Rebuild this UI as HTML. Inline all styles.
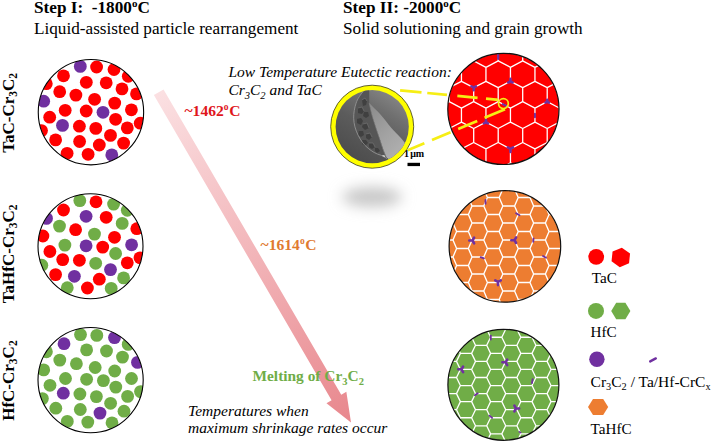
<!DOCTYPE html>
<html><head><meta charset="utf-8"><style>
html,body{margin:0;padding:0;background:#fff;}
body{width:713px;height:448px;overflow:hidden;}
svg{display:block;}
</style></head><body>
<svg width="713" height="448" viewBox="0 0 713 448">
<defs>
<clipPath id="lc0"><circle cx="90.95" cy="112.15" r="52.7"/></clipPath>
<clipPath id="lc1"><circle cx="90.5" cy="246.3" r="52.5"/></clipPath>
<clipPath id="lc2"><circle cx="90.6" cy="380.1" r="52.6"/></clipPath>
<clipPath id="rc0"><circle cx="503.4" cy="108.9" r="55.6"/></clipPath>
<clipPath id="rc1"><circle cx="504.9" cy="246.35" r="55.8"/></clipPath>
<clipPath id="rc2"><circle cx="503.4" cy="384.8" r="55.5"/></clipPath>
<linearGradient id="ag" gradientUnits="userSpaceOnUse" x1="158.7" y1="92.2" x2="351.0" y2="422.6">
<stop offset="0" stop-color="#fbe0e2"/><stop offset="0.5" stop-color="#f2b4b8"/><stop offset="1" stop-color="#e8878d"/>
</linearGradient>
<radialGradient id="sh" cx="0.5" cy="0.5" r="0.5">
<stop offset="0" stop-color="#cfcfcf"/><stop offset="0.45" stop-color="#dadada"/><stop offset="1" stop-color="#fff" stop-opacity="0"/>
</radialGradient>
<linearGradient id="semg" x1="0.25" y1="0.95" x2="0.8" y2="0.05">
<stop offset="0" stop-color="#4c4c4c"/><stop offset="0.45" stop-color="#5c5c5c"/><stop offset="0.75" stop-color="#707070"/><stop offset="1" stop-color="#868686"/>
</linearGradient>
<linearGradient id="lens" x1="0" y1="0" x2="0.6" y2="1">
<stop offset="0" stop-color="#8a8a8a"/><stop offset="0.5" stop-color="#a0a0a0"/><stop offset="1" stop-color="#b2b2b2"/>
</linearGradient>
<clipPath id="semclip"><circle cx="372.2" cy="126.7" r="36.6"/></clipPath>
<filter id="blur8" x="-1" y="-1" width="3" height="3"><feGaussianBlur stdDeviation="7"/></filter>
</defs>
<rect width="713" height="448" fill="#fff"/>

<!-- headers -->
<g font-family="Liberation Serif, Times New Roman, serif" fill="#000">
<text x="34" y="13.3" font-size="17.2" font-weight="bold" xml:space="preserve">Step I:  -1800<tspan font-size="11" dy="-6">o</tspan><tspan dy="6">C</tspan></text>
<text x="34" y="33.9" font-size="17.2">Liquid-assisted particle rearrangement</text>
<text x="343" y="13.3" font-size="17.2" font-weight="bold" xml:space="preserve">Step II: -2000<tspan font-size="11" dy="-6">o</tspan><tspan dy="6">C</tspan></text>
<text x="343" y="33.9" font-size="17.2">Solid solutioning and grain growth</text>
</g>

<!-- rotated labels -->
<g font-family="Liberation Serif, Times New Roman, serif" fill="#000" font-weight="bold" font-size="17">
<text transform="translate(14,152.8) rotate(-90)">TaC-Cr<tspan font-size="11.5" dy="3.4">3</tspan><tspan dy="-3.4">C</tspan><tspan font-size="11.5" dy="3.4">2</tspan></text>
<text transform="translate(14,303.2) rotate(-90)">TaHfC-Cr<tspan font-size="11.5" dy="3.4">3</tspan><tspan dy="-3.4">C</tspan><tspan font-size="11.5" dy="3.4">2</tspan></text>
<text transform="translate(14,420.8) rotate(-90)">HfC-Cr<tspan font-size="11.5" dy="3.4">3</tspan><tspan dy="-3.4">C</tspan><tspan font-size="11.5" dy="3.4">2</tspan></text>
</g>

<!-- shadow under SEM -->
<ellipse cx="372" cy="197" rx="30" ry="10" fill="#c7c7c7" filter="url(#blur8)"/>

<circle cx="90.95" cy="112.15" r="52.7" fill="#fff"/>
<g clip-path="url(#lc0)">
<circle cx="63.5" cy="75.8" r="6.4" fill="#ff0000"/>
<circle cx="86.3" cy="82.3" r="6.4" fill="#ff0000"/>
<circle cx="46.3" cy="83.7" r="6.4" fill="#ff0000"/>
<circle cx="59.7" cy="91.7" r="6.4" fill="#ff0000"/>
<circle cx="75.9" cy="95.1" r="6.4" fill="#ff0000"/>
<circle cx="94.6" cy="99.3" r="6.4" fill="#ff0000"/>
<circle cx="65.2" cy="110.3" r="6.4" fill="#ff0000"/>
<circle cx="86.2" cy="111" r="6.4" fill="#ff0000"/>
<circle cx="49.7" cy="117.2" r="6.4" fill="#ff0000"/>
<circle cx="96.6" cy="67" r="6.4" fill="#ff0000"/>
<circle cx="114" cy="69.5" r="6.4" fill="#ff0000"/>
<circle cx="128.3" cy="76.3" r="6.4" fill="#ff0000"/>
<circle cx="106.2" cy="82.8" r="6.4" fill="#ff0000"/>
<circle cx="122" cy="88.9" r="6.4" fill="#ff0000"/>
<circle cx="136.5" cy="93.9" r="6.4" fill="#ff0000"/>
<circle cx="114.7" cy="103.1" r="6.4" fill="#ff0000"/>
<circle cx="131.4" cy="109.8" r="6.4" fill="#ff0000"/>
<circle cx="79.4" cy="126.2" r="6.4" fill="#ff0000"/>
<circle cx="41.5" cy="130.6" r="6.4" fill="#ff0000"/>
<circle cx="55.6" cy="139.9" r="6.4" fill="#ff0000"/>
<circle cx="79.6" cy="141.5" r="6.4" fill="#ff0000"/>
<circle cx="67.1" cy="153.3" r="6.4" fill="#ff0000"/>
<circle cx="88.1" cy="154.3" r="6.4" fill="#ff0000"/>
<circle cx="115.6" cy="119.3" r="6.4" fill="#ff0000"/>
<circle cx="140.2" cy="123.2" r="6.4" fill="#ff0000"/>
<circle cx="95.8" cy="128.4" r="6.4" fill="#ff0000"/>
<circle cx="127.3" cy="127.9" r="6.4" fill="#ff0000"/>
<circle cx="110.5" cy="135.4" r="6.4" fill="#ff0000"/>
<circle cx="99.3" cy="145" r="6.4" fill="#ff0000"/>
<circle cx="123.6" cy="143.1" r="6.4" fill="#ff0000"/>
<circle cx="80.3" cy="66.4" r="6.4" fill="#7030a0"/>
<circle cx="43.7" cy="101.2" r="6.4" fill="#7030a0"/>
<circle cx="103" cy="112.3" r="6.4" fill="#7030a0"/>
<circle cx="62.5" cy="125.4" r="6.4" fill="#7030a0"/>
<circle cx="111.8" cy="154.9" r="6.4" fill="#7030a0"/>
</g>
<circle cx="90.95" cy="112.15" r="52.7" fill="none" stroke="#000" stroke-width="1.1"/>
<circle cx="90.5" cy="246.3" r="52.5" fill="#fff"/>
<g clip-path="url(#lc1)">
<circle cx="63.5" cy="210" r="6.4" fill="#ff0000"/>
<circle cx="75.6" cy="229.7" r="6.4" fill="#ff0000"/>
<circle cx="42.9" cy="236" r="6.4" fill="#ff0000"/>
<circle cx="49.9" cy="251.5" r="6.4" fill="#ff0000"/>
<circle cx="62.7" cy="259.6" r="6.4" fill="#ff0000"/>
<circle cx="79.4" cy="260.3" r="6.4" fill="#ff0000"/>
<circle cx="55.6" cy="274.6" r="6.4" fill="#ff0000"/>
<circle cx="87.4" cy="288" r="6.4" fill="#ff0000"/>
<circle cx="96" cy="201.8" r="6.4" fill="#ff0000"/>
<circle cx="106.2" cy="217.3" r="6.4" fill="#ff0000"/>
<circle cx="136.8" cy="228.7" r="6.4" fill="#ff0000"/>
<circle cx="114.5" cy="237.3" r="6.4" fill="#ff0000"/>
<circle cx="102.7" cy="247.1" r="6.4" fill="#ff0000"/>
<circle cx="140" cy="257.8" r="6.4" fill="#ff0000"/>
<circle cx="127.3" cy="262.8" r="6.4" fill="#ff0000"/>
<circle cx="99.3" cy="279.2" r="6.4" fill="#ff0000"/>
<circle cx="79.8" cy="200.6" r="6.4" fill="#70ad47"/>
<circle cx="113.6" cy="204.1" r="6.4" fill="#70ad47"/>
<circle cx="127.3" cy="210.3" r="6.4" fill="#70ad47"/>
<circle cx="59.5" cy="226.1" r="6.4" fill="#70ad47"/>
<circle cx="122.2" cy="223.4" r="6.4" fill="#70ad47"/>
<circle cx="94.5" cy="234.1" r="6.4" fill="#70ad47"/>
<circle cx="64.9" cy="245.1" r="6.4" fill="#70ad47"/>
<circle cx="115.6" cy="253.5" r="6.4" fill="#70ad47"/>
<circle cx="95.7" cy="263.3" r="6.4" fill="#70ad47"/>
<circle cx="41.8" cy="265.2" r="6.4" fill="#70ad47"/>
<circle cx="123.6" cy="277.9" r="6.4" fill="#70ad47"/>
<circle cx="67.3" cy="287.7" r="6.4" fill="#70ad47"/>
<circle cx="111.2" cy="288.4" r="6.4" fill="#70ad47"/>
<circle cx="86.1" cy="216.3" r="6.4" fill="#7030a0"/>
<circle cx="46.5" cy="218.4" r="6.4" fill="#7030a0"/>
<circle cx="86.1" cy="245.8" r="6.4" fill="#7030a0"/>
<circle cx="74.4" cy="276.3" r="6.4" fill="#7030a0"/>
<circle cx="131.6" cy="244.8" r="6.4" fill="#7030a0"/>
<circle cx="110.5" cy="269.6" r="6.4" fill="#7030a0"/>
</g>
<circle cx="90.5" cy="246.3" r="52.5" fill="none" stroke="#000" stroke-width="1.1"/>
<circle cx="90.6" cy="380.1" r="52.6" fill="#fff"/>
<g clip-path="url(#lc2)">
<circle cx="80.5" cy="334.6" r="6.4" fill="#70ad47"/>
<circle cx="96.8" cy="335.4" r="6.4" fill="#70ad47"/>
<circle cx="128.2" cy="344.4" r="6.4" fill="#70ad47"/>
<circle cx="86.6" cy="349.9" r="6.4" fill="#70ad47"/>
<circle cx="46.4" cy="351.8" r="6.4" fill="#70ad47"/>
<circle cx="106.5" cy="351" r="6.4" fill="#70ad47"/>
<circle cx="122.5" cy="357.1" r="6.4" fill="#70ad47"/>
<circle cx="59.8" cy="360.1" r="6.4" fill="#70ad47"/>
<circle cx="76.4" cy="363.7" r="6.4" fill="#70ad47"/>
<circle cx="95.2" cy="367.5" r="6.4" fill="#70ad47"/>
<circle cx="43.7" cy="369.9" r="6.4" fill="#70ad47"/>
<circle cx="114.7" cy="371" r="6.4" fill="#70ad47"/>
<circle cx="65.5" cy="378.5" r="6.4" fill="#70ad47"/>
<circle cx="86.6" cy="379.3" r="6.4" fill="#70ad47"/>
<circle cx="103.4" cy="380.6" r="6.4" fill="#70ad47"/>
<circle cx="131.5" cy="378.5" r="6.4" fill="#70ad47"/>
<circle cx="50" cy="385.3" r="6.4" fill="#70ad47"/>
<circle cx="115.8" cy="387.1" r="6.4" fill="#70ad47"/>
<circle cx="140.5" cy="391.6" r="6.4" fill="#70ad47"/>
<circle cx="79.9" cy="394" r="6.4" fill="#70ad47"/>
<circle cx="42.4" cy="398.6" r="6.4" fill="#70ad47"/>
<circle cx="96.4" cy="396.6" r="6.4" fill="#70ad47"/>
<circle cx="127.6" cy="396.4" r="6.4" fill="#70ad47"/>
<circle cx="110.6" cy="403.3" r="6.4" fill="#70ad47"/>
<circle cx="55.8" cy="408.2" r="6.4" fill="#70ad47"/>
<circle cx="80.3" cy="409.5" r="6.4" fill="#70ad47"/>
<circle cx="124" cy="411.2" r="6.4" fill="#70ad47"/>
<circle cx="67.3" cy="421.4" r="6.4" fill="#70ad47"/>
<circle cx="87.8" cy="422.1" r="6.4" fill="#70ad47"/>
<circle cx="112" cy="422.8" r="6.4" fill="#70ad47"/>
<circle cx="114.5" cy="337.6" r="6.4" fill="#7030a0"/>
<circle cx="64" cy="343.7" r="6.4" fill="#7030a0"/>
<circle cx="137.5" cy="362.4" r="6.4" fill="#7030a0"/>
<circle cx="63.3" cy="393.2" r="6.4" fill="#7030a0"/>
<circle cx="100" cy="413.1" r="6.4" fill="#7030a0"/>
</g>
<circle cx="90.6" cy="380.1" r="52.6" fill="none" stroke="#000" stroke-width="1.1"/>
<circle cx="503.4" cy="108.9" r="55.6" fill="#ff0000"/>
<g clip-path="url(#rc0)" fill="none" stroke="#fff" stroke-width="1.3" stroke-linejoin="round">
<path d="M498.2,20.1 L510.45,26.5 L510.45,40.5 L498.2,46.9 L485.95,40.5 L485.95,26.5Z M461.45,40.5 L473.7,46.9 L473.7,60.9 L461.45,67.3 L449.2,60.9 L449.2,46.9Z M485.95,40.5 L498.2,46.9 L498.2,60.9 L485.95,67.3 L473.7,60.9 L473.7,46.9Z M510.45,40.5 L522.7,46.9 L522.7,60.9 L510.45,67.3 L498.2,60.9 L498.2,46.9Z M534.95,40.5 L547.2,46.9 L547.2,60.9 L534.95,67.3 L522.7,60.9 L522.7,46.9Z M449.2,60.9 L461.45,67.3 L461.45,81.3 L449.2,87.7 L436.95,81.3 L436.95,67.3Z M473.7,60.9 L485.95,67.3 L485.95,81.3 L473.7,87.7 L461.45,81.3 L461.45,67.3Z M498.2,60.9 L510.45,67.3 L510.45,81.3 L498.2,87.7 L485.95,81.3 L485.95,67.3Z M522.7,60.9 L534.95,67.3 L534.95,81.3 L522.7,87.7 L510.45,81.3 L510.45,67.3Z M547.2,60.9 L559.45,67.3 L559.45,81.3 L547.2,87.7 L534.95,81.3 L534.95,67.3Z M436.95,81.3 L449.2,87.7 L449.2,101.7 L436.95,108.1 L424.7,101.7 L424.7,87.7Z M461.45,81.3 L473.7,87.7 L473.7,101.7 L461.45,108.1 L449.2,101.7 L449.2,87.7Z M485.95,81.3 L498.2,87.7 L498.2,101.7 L485.95,108.1 L473.7,101.7 L473.7,87.7Z M510.45,81.3 L522.7,87.7 L522.7,101.7 L510.45,108.1 L498.2,101.7 L498.2,87.7Z M534.95,81.3 L547.2,87.7 L547.2,101.7 L534.95,108.1 L522.7,101.7 L522.7,87.7Z M559.45,81.3 L571.7,87.7 L571.7,101.7 L559.45,108.1 L547.2,101.7 L547.2,87.7Z M449.2,101.7 L461.45,108.1 L461.45,122.1 L449.2,128.5 L436.95,122.1 L436.95,108.1Z M473.7,101.7 L485.95,108.1 L485.95,122.1 L473.7,128.5 L461.45,122.1 L461.45,108.1Z M498.2,101.7 L510.45,108.1 L510.45,122.1 L498.2,128.5 L485.95,122.1 L485.95,108.1Z M522.7,101.7 L534.95,108.1 L534.95,122.1 L522.7,128.5 L510.45,122.1 L510.45,108.1Z M547.2,101.7 L559.45,108.1 L559.45,122.1 L547.2,128.5 L534.95,122.1 L534.95,108.1Z M571.7,101.7 L583.95,108.1 L583.95,122.1 L571.7,128.5 L559.45,122.1 L559.45,108.1Z M436.95,122.1 L449.2,128.5 L449.2,142.5 L436.95,148.9 L424.7,142.5 L424.7,128.5Z M461.45,122.1 L473.7,128.5 L473.7,142.5 L461.45,148.9 L449.2,142.5 L449.2,128.5Z M485.95,122.1 L498.2,128.5 L498.2,142.5 L485.95,148.9 L473.7,142.5 L473.7,128.5Z M510.45,122.1 L522.7,128.5 L522.7,142.5 L510.45,148.9 L498.2,142.5 L498.2,128.5Z M534.95,122.1 L547.2,128.5 L547.2,142.5 L534.95,148.9 L522.7,142.5 L522.7,128.5Z M559.45,122.1 L571.7,128.5 L571.7,142.5 L559.45,148.9 L547.2,142.5 L547.2,128.5Z M449.2,142.5 L461.45,148.9 L461.45,162.9 L449.2,169.3 L436.95,162.9 L436.95,148.9Z M473.7,142.5 L485.95,148.9 L485.95,162.9 L473.7,169.3 L461.45,162.9 L461.45,148.9Z M498.2,142.5 L510.45,148.9 L510.45,162.9 L498.2,169.3 L485.95,162.9 L485.95,148.9Z M522.7,142.5 L534.95,148.9 L534.95,162.9 L522.7,169.3 L510.45,162.9 L510.45,148.9Z M547.2,142.5 L559.45,148.9 L559.45,162.9 L547.2,169.3 L534.95,162.9 L534.95,148.9Z M485.95,162.9 L498.2,169.3 L498.2,183.3 L485.95,189.7 L473.7,183.3 L473.7,169.3Z M510.45,162.9 L522.7,169.3 L522.7,183.3 L510.45,189.7 L498.2,183.3 L498.2,169.3Z M534.95,162.9 L547.2,169.3 L547.2,183.3 L534.95,189.7 L522.7,183.3 L522.7,169.3Z"/>
</g>
<g clip-path="url(#rc0)" fill="#7030a0" stroke="none">
<path d="M498.2,55 L498.2,59" stroke="#7030a0" stroke-width="2.2" stroke-linecap="round"/>
<path transform="translate(510.45,81.3) rotate(180)" d="M0,0 L-2.09,-1.2 M0,0 L2.09,-1.2 M0,0 L0,2.4" stroke="#7030a0" stroke-width="2.6" stroke-linecap="round" stroke-linejoin="round" fill="none"/>
<path transform="translate(473.7,87.7) rotate(0)" d="M0,0 L-2.26,-1.3 M0,0 L2.26,-1.3 M0,0 L0,2.6" stroke="#7030a0" stroke-width="2.6" stroke-linecap="round" stroke-linejoin="round" fill="none"/>
<path d="M502.75,104.09 L505.85,105.71" stroke="#7030a0" stroke-width="2" stroke-linecap="round"/>
<path transform="translate(485.95,122.1) rotate(180)" d="M0,0 L-2.09,-1.2 M0,0 L2.09,-1.2 M0,0 L0,2.4" stroke="#7030a0" stroke-width="2.6" stroke-linecap="round" stroke-linejoin="round" fill="none"/>
<path transform="translate(547.2,101.7) rotate(180)" d="M0,0 L-1.74,-1 M0,0 L1.74,-1 M0,0 L0,2" stroke="#7030a0" stroke-width="2.6" stroke-linecap="round" stroke-linejoin="round" fill="none"/>
<path d="M534.95,113.75 L534.95,117.25" stroke="#7030a0" stroke-width="2" stroke-linecap="round"/>
<path transform="translate(510.45,148.9) rotate(0)" d="M0,0 L-2.61,-1.5 M0,0 L2.61,-1.5 M0,0 L0,3" stroke="#7030a0" stroke-width="2.6" stroke-linecap="round" stroke-linejoin="round" fill="none"/>
</g>
<circle cx="503.4" cy="108.9" r="55.6" fill="none" stroke="#111" stroke-width="1.2"/>
<circle cx="504.9" cy="246.35" r="55.8" fill="#ed7d31"/>
<g clip-path="url(#rc1)" fill="none" stroke="#fff" stroke-width="1.3" stroke-linejoin="round">
<path d="M437.6,214.5 L441.25,206 L452.95,206 L456.6,214.5 L452.95,223 L441.25,223Z M437.6,231.5 L441.25,223 L452.95,223 L456.6,231.5 L452.95,240 L441.25,240Z M437.6,248.5 L441.25,240 L452.95,240 L456.6,248.5 L452.95,257 L441.25,257Z M437.6,265.5 L441.25,257 L452.95,257 L456.6,265.5 L452.95,274 L441.25,274Z M437.6,282.5 L441.25,274 L452.95,274 L456.6,282.5 L452.95,291 L441.25,291Z M453,206 L456.65,197.5 L468.35,197.5 L472,206 L468.35,214.5 L456.65,214.5Z M453,223 L456.65,214.5 L468.35,214.5 L472,223 L468.35,231.5 L456.65,231.5Z M453,240 L456.65,231.5 L468.35,231.5 L472,240 L468.35,248.5 L456.65,248.5Z M453,257 L456.65,248.5 L468.35,248.5 L472,257 L468.35,265.5 L456.65,265.5Z M453,274 L456.65,265.5 L468.35,265.5 L472,274 L468.35,282.5 L456.65,282.5Z M453,291 L456.65,282.5 L468.35,282.5 L472,291 L468.35,299.5 L456.65,299.5Z M468.4,197.5 L472.05,189 L483.75,189 L487.4,197.5 L483.75,206 L472.05,206Z M468.4,214.5 L472.05,206 L483.75,206 L487.4,214.5 L483.75,223 L472.05,223Z M468.4,231.5 L472.05,223 L483.75,223 L487.4,231.5 L483.75,240 L472.05,240Z M468.4,248.5 L472.05,240 L483.75,240 L487.4,248.5 L483.75,257 L472.05,257Z M468.4,265.5 L472.05,257 L483.75,257 L487.4,265.5 L483.75,274 L472.05,274Z M468.4,282.5 L472.05,274 L483.75,274 L487.4,282.5 L483.75,291 L472.05,291Z M468.4,299.5 L472.05,291 L483.75,291 L487.4,299.5 L483.75,308 L472.05,308Z M483.8,189 L487.45,180.5 L499.15,180.5 L502.8,189 L499.15,197.5 L487.45,197.5Z M483.8,206 L487.45,197.5 L499.15,197.5 L502.8,206 L499.15,214.5 L487.45,214.5Z M483.8,223 L487.45,214.5 L499.15,214.5 L502.8,223 L499.15,231.5 L487.45,231.5Z M483.8,240 L487.45,231.5 L499.15,231.5 L502.8,240 L499.15,248.5 L487.45,248.5Z M483.8,257 L487.45,248.5 L499.15,248.5 L502.8,257 L499.15,265.5 L487.45,265.5Z M483.8,274 L487.45,265.5 L499.15,265.5 L502.8,274 L499.15,282.5 L487.45,282.5Z M483.8,291 L487.45,282.5 L499.15,282.5 L502.8,291 L499.15,299.5 L487.45,299.5Z M483.8,308 L487.45,299.5 L499.15,299.5 L502.8,308 L499.15,316.5 L487.45,316.5Z M499.2,180.5 L502.85,172 L514.55,172 L518.2,180.5 L514.55,189 L502.85,189Z M499.2,197.5 L502.85,189 L514.55,189 L518.2,197.5 L514.55,206 L502.85,206Z M499.2,214.5 L502.85,206 L514.55,206 L518.2,214.5 L514.55,223 L502.85,223Z M499.2,231.5 L502.85,223 L514.55,223 L518.2,231.5 L514.55,240 L502.85,240Z M499.2,248.5 L502.85,240 L514.55,240 L518.2,248.5 L514.55,257 L502.85,257Z M499.2,265.5 L502.85,257 L514.55,257 L518.2,265.5 L514.55,274 L502.85,274Z M499.2,282.5 L502.85,274 L514.55,274 L518.2,282.5 L514.55,291 L502.85,291Z M499.2,299.5 L502.85,291 L514.55,291 L518.2,299.5 L514.55,308 L502.85,308Z M499.2,316.5 L502.85,308 L514.55,308 L518.2,316.5 L514.55,325 L502.85,325Z M514.6,189 L518.25,180.5 L529.95,180.5 L533.6,189 L529.95,197.5 L518.25,197.5Z M514.6,206 L518.25,197.5 L529.95,197.5 L533.6,206 L529.95,214.5 L518.25,214.5Z M514.6,223 L518.25,214.5 L529.95,214.5 L533.6,223 L529.95,231.5 L518.25,231.5Z M514.6,240 L518.25,231.5 L529.95,231.5 L533.6,240 L529.95,248.5 L518.25,248.5Z M514.6,257 L518.25,248.5 L529.95,248.5 L533.6,257 L529.95,265.5 L518.25,265.5Z M514.6,274 L518.25,265.5 L529.95,265.5 L533.6,274 L529.95,282.5 L518.25,282.5Z M514.6,291 L518.25,282.5 L529.95,282.5 L533.6,291 L529.95,299.5 L518.25,299.5Z M514.6,308 L518.25,299.5 L529.95,299.5 L533.6,308 L529.95,316.5 L518.25,316.5Z M530,197.5 L533.65,189 L545.35,189 L549,197.5 L545.35,206 L533.65,206Z M530,214.5 L533.65,206 L545.35,206 L549,214.5 L545.35,223 L533.65,223Z M530,231.5 L533.65,223 L545.35,223 L549,231.5 L545.35,240 L533.65,240Z M530,248.5 L533.65,240 L545.35,240 L549,248.5 L545.35,257 L533.65,257Z M530,265.5 L533.65,257 L545.35,257 L549,265.5 L545.35,274 L533.65,274Z M530,282.5 L533.65,274 L545.35,274 L549,282.5 L545.35,291 L533.65,291Z M530,299.5 L533.65,291 L545.35,291 L549,299.5 L545.35,308 L533.65,308Z M545.4,206 L549.05,197.5 L560.75,197.5 L564.4,206 L560.75,214.5 L549.05,214.5Z M545.4,223 L549.05,214.5 L560.75,214.5 L564.4,223 L560.75,231.5 L549.05,231.5Z M545.4,240 L549.05,231.5 L560.75,231.5 L564.4,240 L560.75,248.5 L549.05,248.5Z M545.4,257 L549.05,248.5 L560.75,248.5 L564.4,257 L560.75,265.5 L549.05,265.5Z M545.4,274 L549.05,265.5 L560.75,265.5 L564.4,274 L560.75,282.5 L549.05,282.5Z M545.4,291 L549.05,282.5 L560.75,282.5 L564.4,291 L560.75,299.5 L549.05,299.5Z M560.8,231.5 L564.45,223 L576.15,223 L579.8,231.5 L576.15,240 L564.45,240Z M560.8,248.5 L564.45,240 L576.15,240 L579.8,248.5 L576.15,257 L564.45,257Z M560.8,265.5 L564.45,257 L576.15,257 L579.8,265.5 L576.15,274 L564.45,274Z"/>
</g>
<g clip-path="url(#rc1)" fill="#7030a0" stroke="none">
<path d="M485.5,199.8 L485.5,203.8" stroke="#7030a0" stroke-width="1.8" stroke-linecap="round"/>
<path d="M516.07,213.2 L519.53,215.2" stroke="#7030a0" stroke-width="1.8" stroke-linecap="round"/>
<path transform="translate(472.5,240.5) rotate(90)" d="M0,0 L-2.78,-1.6 M0,0 L2.78,-1.6 M0,0 L0,3.2" stroke="#7030a0" stroke-width="2.6" stroke-linecap="round" stroke-linejoin="round" fill="none"/>
<path transform="translate(514.5,240.2) rotate(90)" d="M0,0 L-2.78,-1.6 M0,0 L2.78,-1.6 M0,0 L0,3.2" stroke="#7030a0" stroke-width="2.6" stroke-linecap="round" stroke-linejoin="round" fill="none"/>
<path d="M533.55,238.36 L533.25,241.84" stroke="#7030a0" stroke-width="1.8" stroke-linecap="round"/>
<path d="M480.66,257.2 L483.94,258.4" stroke="#7030a0" stroke-width="1.8" stroke-linecap="round"/>
<path d="M542.98,256.02 L546.02,257.77" stroke="#7030a0" stroke-width="1.8" stroke-linecap="round"/>
<path transform="translate(498,281.9) rotate(0)" d="M0,0 L-2.78,-1.6 M0,0 L2.78,-1.6 M0,0 L0,3.2" stroke="#7030a0" stroke-width="2.6" stroke-linecap="round" stroke-linejoin="round" fill="none"/>
</g>
<circle cx="504.9" cy="246.35" r="55.8" fill="none" stroke="#111" stroke-width="1.2"/>
<circle cx="503.4" cy="384.8" r="55.5" fill="#70ad47"/>
<g clip-path="url(#rc2)" fill="none" stroke="#fff" stroke-width="1.3" stroke-linejoin="round">
<path d="M426.3,377.5 L430.2,369.45 L441.4,369.45 L445.3,377.5 L441.4,385.55 L430.2,385.55Z M426.3,393.6 L430.2,385.55 L441.4,385.55 L445.3,393.6 L441.4,401.65 L430.2,401.65Z M441.4,353.35 L445.3,345.3 L456.5,345.3 L460.4,353.35 L456.5,361.4 L445.3,361.4Z M441.4,369.45 L445.3,361.4 L456.5,361.4 L460.4,369.45 L456.5,377.5 L445.3,377.5Z M441.4,385.55 L445.3,377.5 L456.5,377.5 L460.4,385.55 L456.5,393.6 L445.3,393.6Z M441.4,401.65 L445.3,393.6 L456.5,393.6 L460.4,401.65 L456.5,409.7 L445.3,409.7Z M441.4,417.75 L445.3,409.7 L456.5,409.7 L460.4,417.75 L456.5,425.8 L445.3,425.8Z M456.5,329.2 L460.4,321.15 L471.6,321.15 L475.5,329.2 L471.6,337.25 L460.4,337.25Z M456.5,345.3 L460.4,337.25 L471.6,337.25 L475.5,345.3 L471.6,353.35 L460.4,353.35Z M456.5,361.4 L460.4,353.35 L471.6,353.35 L475.5,361.4 L471.6,369.45 L460.4,369.45Z M456.5,377.5 L460.4,369.45 L471.6,369.45 L475.5,377.5 L471.6,385.55 L460.4,385.55Z M456.5,393.6 L460.4,385.55 L471.6,385.55 L475.5,393.6 L471.6,401.65 L460.4,401.65Z M456.5,409.7 L460.4,401.65 L471.6,401.65 L475.5,409.7 L471.6,417.75 L460.4,417.75Z M456.5,425.8 L460.4,417.75 L471.6,417.75 L475.5,425.8 L471.6,433.85 L460.4,433.85Z M456.5,441.9 L460.4,433.85 L471.6,433.85 L475.5,441.9 L471.6,449.95 L460.4,449.95Z M471.6,321.15 L475.5,313.1 L486.7,313.1 L490.6,321.15 L486.7,329.2 L475.5,329.2Z M471.6,337.25 L475.5,329.2 L486.7,329.2 L490.6,337.25 L486.7,345.3 L475.5,345.3Z M471.6,353.35 L475.5,345.3 L486.7,345.3 L490.6,353.35 L486.7,361.4 L475.5,361.4Z M471.6,369.45 L475.5,361.4 L486.7,361.4 L490.6,369.45 L486.7,377.5 L475.5,377.5Z M471.6,385.55 L475.5,377.5 L486.7,377.5 L490.6,385.55 L486.7,393.6 L475.5,393.6Z M471.6,401.65 L475.5,393.6 L486.7,393.6 L490.6,401.65 L486.7,409.7 L475.5,409.7Z M471.6,417.75 L475.5,409.7 L486.7,409.7 L490.6,417.75 L486.7,425.8 L475.5,425.8Z M471.6,433.85 L475.5,425.8 L486.7,425.8 L490.6,433.85 L486.7,441.9 L475.5,441.9Z M471.6,449.95 L475.5,441.9 L486.7,441.9 L490.6,449.95 L486.7,458 L475.5,458Z M486.7,329.2 L490.6,321.15 L501.8,321.15 L505.7,329.2 L501.8,337.25 L490.6,337.25Z M486.7,345.3 L490.6,337.25 L501.8,337.25 L505.7,345.3 L501.8,353.35 L490.6,353.35Z M486.7,361.4 L490.6,353.35 L501.8,353.35 L505.7,361.4 L501.8,369.45 L490.6,369.45Z M486.7,377.5 L490.6,369.45 L501.8,369.45 L505.7,377.5 L501.8,385.55 L490.6,385.55Z M486.7,393.6 L490.6,385.55 L501.8,385.55 L505.7,393.6 L501.8,401.65 L490.6,401.65Z M486.7,409.7 L490.6,401.65 L501.8,401.65 L505.7,409.7 L501.8,417.75 L490.6,417.75Z M486.7,425.8 L490.6,417.75 L501.8,417.75 L505.7,425.8 L501.8,433.85 L490.6,433.85Z M486.7,441.9 L490.6,433.85 L501.8,433.85 L505.7,441.9 L501.8,449.95 L490.6,449.95Z M501.8,321.15 L505.7,313.1 L516.9,313.1 L520.8,321.15 L516.9,329.2 L505.7,329.2Z M501.8,337.25 L505.7,329.2 L516.9,329.2 L520.8,337.25 L516.9,345.3 L505.7,345.3Z M501.8,353.35 L505.7,345.3 L516.9,345.3 L520.8,353.35 L516.9,361.4 L505.7,361.4Z M501.8,369.45 L505.7,361.4 L516.9,361.4 L520.8,369.45 L516.9,377.5 L505.7,377.5Z M501.8,385.55 L505.7,377.5 L516.9,377.5 L520.8,385.55 L516.9,393.6 L505.7,393.6Z M501.8,401.65 L505.7,393.6 L516.9,393.6 L520.8,401.65 L516.9,409.7 L505.7,409.7Z M501.8,417.75 L505.7,409.7 L516.9,409.7 L520.8,417.75 L516.9,425.8 L505.7,425.8Z M501.8,433.85 L505.7,425.8 L516.9,425.8 L520.8,433.85 L516.9,441.9 L505.7,441.9Z M501.8,449.95 L505.7,441.9 L516.9,441.9 L520.8,449.95 L516.9,458 L505.7,458Z M516.9,329.2 L520.8,321.15 L532,321.15 L535.9,329.2 L532,337.25 L520.8,337.25Z M516.9,345.3 L520.8,337.25 L532,337.25 L535.9,345.3 L532,353.35 L520.8,353.35Z M516.9,361.4 L520.8,353.35 L532,353.35 L535.9,361.4 L532,369.45 L520.8,369.45Z M516.9,377.5 L520.8,369.45 L532,369.45 L535.9,377.5 L532,385.55 L520.8,385.55Z M516.9,393.6 L520.8,385.55 L532,385.55 L535.9,393.6 L532,401.65 L520.8,401.65Z M516.9,409.7 L520.8,401.65 L532,401.65 L535.9,409.7 L532,417.75 L520.8,417.75Z M516.9,425.8 L520.8,417.75 L532,417.75 L535.9,425.8 L532,433.85 L520.8,433.85Z M516.9,441.9 L520.8,433.85 L532,433.85 L535.9,441.9 L532,449.95 L520.8,449.95Z M532,337.25 L535.9,329.2 L547.1,329.2 L551,337.25 L547.1,345.3 L535.9,345.3Z M532,353.35 L535.9,345.3 L547.1,345.3 L551,353.35 L547.1,361.4 L535.9,361.4Z M532,369.45 L535.9,361.4 L547.1,361.4 L551,369.45 L547.1,377.5 L535.9,377.5Z M532,385.55 L535.9,377.5 L547.1,377.5 L551,385.55 L547.1,393.6 L535.9,393.6Z M532,401.65 L535.9,393.6 L547.1,393.6 L551,401.65 L547.1,409.7 L535.9,409.7Z M532,417.75 L535.9,409.7 L547.1,409.7 L551,417.75 L547.1,425.8 L535.9,425.8Z M532,433.85 L535.9,425.8 L547.1,425.8 L551,433.85 L547.1,441.9 L535.9,441.9Z M547.1,345.3 L551,337.25 L562.2,337.25 L566.1,345.3 L562.2,353.35 L551,353.35Z M547.1,361.4 L551,353.35 L562.2,353.35 L566.1,361.4 L562.2,369.45 L551,369.45Z M547.1,377.5 L551,369.45 L562.2,369.45 L566.1,377.5 L562.2,385.55 L551,385.55Z M547.1,393.6 L551,385.55 L562.2,385.55 L566.1,393.6 L562.2,401.65 L551,401.65Z M547.1,409.7 L551,401.65 L562.2,401.65 L566.1,409.7 L562.2,417.75 L551,417.75Z M547.1,425.8 L551,417.75 L562.2,417.75 L566.1,425.8 L562.2,433.85 L551,433.85Z"/>
</g>
<g clip-path="url(#rc2)" fill="#7030a0" stroke="none">
<path d="M490.8,335.6 L490.8,339.6" stroke="#7030a0" stroke-width="1.8" stroke-linecap="round"/>
<path transform="translate(461.5,369.3) rotate(90)" d="M0,0 L-2.78,-1.6 M0,0 L2.78,-1.6 M0,0 L0,3.2" stroke="#7030a0" stroke-width="2.6" stroke-linecap="round" stroke-linejoin="round" fill="none"/>
<path transform="translate(505.6,362.3) rotate(90)" d="M0,0 L-2.78,-1.6 M0,0 L2.78,-1.6 M0,0 L0,3.2" stroke="#7030a0" stroke-width="2.6" stroke-linecap="round" stroke-linejoin="round" fill="none"/>
<path d="M532.65,379.13 L531.95,383.07" stroke="#7030a0" stroke-width="1.8" stroke-linecap="round"/>
<path d="M474.87,395.2 L477.73,393.2" stroke="#7030a0" stroke-width="1.8" stroke-linecap="round"/>
<path transform="translate(516,408.5) rotate(-90)" d="M0,0 L-2.78,-1.6 M0,0 L2.78,-1.6 M0,0 L0,3.2" stroke="#7030a0" stroke-width="2.6" stroke-linecap="round" stroke-linejoin="round" fill="none"/>
<path d="M489.46,415.68 L492.14,417.92" stroke="#7030a0" stroke-width="1.8" stroke-linecap="round"/>
<path d="M519.35,431.93 L520.65,432.68" stroke="#7030a0" stroke-width="1.6" stroke-linecap="round"/>
</g>
<circle cx="503.4" cy="384.8" r="55.5" fill="none" stroke="#111" stroke-width="1.2"/>

<!-- arrow -->
<path d="M153.86,95.02 L331.57,400.35 L326.47,403.32 L351.00,422.60 L346.35,391.75 L341.25,394.72 L163.54,89.38Z" fill="url(#ag)"/>

<!-- SEM inset -->
<circle cx="372.2" cy="126.7" r="41.5" fill="#ffff00" stroke="#3a3a1a" stroke-width="0.8"/>
<circle cx="372.2" cy="126.7" r="36.6" fill="url(#semg)"/>
<g clip-path="url(#semclip)">
<path d="M369.2,103.1 C372,106 375,109 378.2,112.1 C382,116 385,120 388.3,124.2 C392,129 395,132 398.3,135.2 C401,138 403,140 404.3,142.3 L409,148 L398,166 L386.3,157.3 C383,150 381.5,145 380.2,140.3 C378,134 376,128 374.2,122.2 C372,116 370.5,109 369.2,103.1Z" fill="url(#lens)"/>
<path d="M365.2,89 C360,95 357.5,99 356.1,103.1 C354.5,108 353.6,113 353.7,118.2 C353.8,124 355.5,130 358.1,135.2 C361,141 364,145 368.2,148.3 C372,151.5 376,154 381.2,155.3 L387,158.5 C384,152 382,146 380.2,140.3 C378,134 376,128 374.2,122.2 C372,116 370.5,109 369.2,103.1 L369.2,89Z" fill="#565656"/>
<g fill="#3c3c3c" opacity="0.85">
<path d="M362,100 l3,-2 l2,3 l-1,4 l-3,1z"/><path d="M358,108 l4,-1 l2,4 l-2,3 l-4,-1z"/><path d="M364,112 l4,0 l1,4 l-3,2 l-3,-2z"/>
<path d="M357,119 l4,-1 l2,3 l-2,4 l-4,-2z"/><path d="M363,124 l4,-1 l2,5 l-4,2 l-3,-3z"/><path d="M359,131 l4,0 l1,4 l-3,2 l-3,-2z"/>
<path d="M366,134 l4,-1 l2,4 l-3,3 l-3,-2z"/><path d="M362,140 l4,0 l2,3 l-3,3 l-3,-2z"/><path d="M369,143 l4,0 l2,4 l-3,2 l-3,-2z"/>
<path d="M375,148 l3,0 l2,3 l-3,2 l-2,-2z"/>
</g>
<g fill="none" stroke="#7a7a7a" stroke-width="0.6">
<path d="M362,100 l3,-2 l2,3 M358,108 l4,-1 l2,4 M363,124 l4,-1 l2,5 M366,134 l4,-1 l2,4 M369,143 l4,0 l2,4"/>
</g>
<path d="M365.2,89 C360,95 357.5,99 356.1,103.1 C354.5,108 353.6,113 353.7,118.2 C353.8,124 355.5,130 358.1,135.2 C361,141 364,145 368.2,148.3 C372,151.5 376,154 381.2,155.3 L387,158.5" fill="none" stroke="#9c9c9c" stroke-width="0.8"/>
<path d="M369.2,103.1 C370.5,109 372,116 374.2,122.2 C376,128 378,134 380.2,140.3 C381.5,145 383,150 386.3,157.3" fill="none" stroke="#8a8a8a" stroke-width="0.6"/>
<path d="M382.5,155.5 L385,156.3" stroke="#e0e0e0" stroke-width="1.3"/>
</g>

<!-- yellow dashed lines -->
<g stroke="#f6ee14" stroke-width="2.7" fill="none">
<path d="M400.1,90.4 L498.4,99.8" stroke-dasharray="21.5 5.8 19.8 10.4 20.3 8.5 13"/>
<path d="M407.6,150.3 L505,109.2" stroke-dasharray="18.2 8.3 20.1 8.3 20.7 7.9 23"/>
</g>
<circle cx="503.4" cy="103.6" r="4.9" fill="none" stroke="#f6ee14" stroke-width="1.7"/>

<!-- 1um scale -->
<text x="404" y="156.8" font-family="Liberation Serif, Times New Roman, serif" font-size="10" font-weight="bold" fill="#000">1<tspan dx="1.2">μm</tspan></text>
<rect x="407.5" y="162.8" width="12.5" height="3.3" fill="#000"/>

<!-- italic notes -->
<g font-family="Liberation Serif, Times New Roman, serif" font-style="italic" fill="#000" font-size="15.5">
<text x="228.4" y="76.9">Low Temperature Eutectic reaction:</text>
<text x="228.4" y="94.7">Cr<tspan font-size="10.5" dy="4">3</tspan><tspan dy="-4">C</tspan><tspan font-size="10.5" dy="4">2</tspan><tspan dy="-4"> and TaC</tspan></text>
<text x="188" y="416">Temperatures when</text>
<text x="188" y="433.3">maximum shrinkage rates occur</text>
</g>

<!-- temperature labels -->
<g font-family="Liberation Serif, Times New Roman, serif" font-weight="bold" font-size="15.6">
<text x="184.5" y="115.8" fill="#e0161c">~1462<tspan font-size="9.5" dy="-5.8">o</tspan><tspan dy="5.8" dx="0.6">C</tspan></text>
<text x="260.6" y="249.6" fill="#e07a30">~1614<tspan font-size="9.5" dy="-5.8">o</tspan><tspan dy="5.8" dx="0.6">C</tspan></text>
<text x="252.5" y="381.3" fill="#70ad47" font-size="15.4">Melting of Cr<tspan font-size="10.5" dy="3.8">3</tspan><tspan dy="-3.8">C</tspan><tspan font-size="10.5" dy="3.8">2</tspan></text>
</g>

<!-- legend -->
<circle cx="596.2" cy="256.8" r="7.9" fill="#ff0000"/>
<polygon points="620.8,247.6 629.6,252.5 629.6,262.3 620.8,267.2 612,262.3 612,252.5" fill="#ff0000" transform="rotate(6 620.8 257.4)"/>
<circle cx="596" cy="310.9" r="8" fill="#70ad47"/>
<polygon points="611.2,311 616.2,302.8 625.4,302.8 630.4,311 625.4,319.2 616.2,319.2" fill="#70ad47"/>
<circle cx="596.9" cy="359.3" r="7.7" fill="#7030a0"/>
<path d="M650.2,361.4 L655.8,358.4" stroke="#7030a0" stroke-width="2.4" stroke-linecap="round"/>
<polygon points="588,407 593,398.9 603.2,398.9 608.2,407 603.2,415.1 593,415.1" fill="#ed7d31"/>
<g font-family="Liberation Serif, Times New Roman, serif" fill="#000" font-size="15.2">
<text x="591.8" y="282.7">TaC</text>
<text x="590.6" y="337.3">HfC</text>
<text x="590.6" y="387" font-size="15.5">Cr<tspan font-size="10.3" dy="3.3">3</tspan><tspan dy="-3.3">C</tspan><tspan font-size="10.3" dy="3.3">2</tspan><tspan dy="-3.3"> / Ta/Hf-CrC</tspan><tspan font-size="10.3" dy="3.3">x</tspan></text>
<text x="590.6" y="433.5">TaHfC</text>
</g>
</svg>
</body></html>
